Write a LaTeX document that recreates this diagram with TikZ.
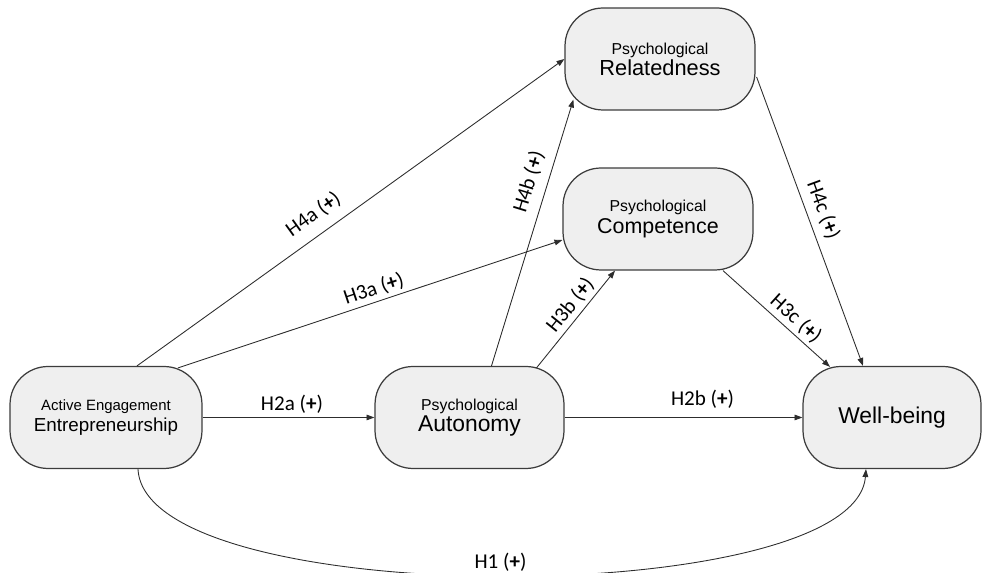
\documentclass[tikz,border=0pt]{standalone}
\usepackage{fontspec}
\setmainfont{Liberation Sans}
\newfontfamily\hypfont{Carlito}
\usetikzlibrary{arrows.meta,calc}

\definecolor{boxfill}{RGB}{239,239,239}
\definecolor{boxline}{RGB}{60,60,60}
\definecolor{pathline}{RGB}{45,45,45}

\newcommand{\cname}[4]{\fontsize{#3}{11}\selectfont #1\\\fontsize{#4}{13}\selectfont #2}
\newcommand{\plus}{(\textbf{+})}

\begin{document}
\begin{tikzpicture}[x=0.02cm,y=-0.02cm,
    construct/.style={draw=boxline,line width=0.7pt,fill=boxfill,rounded corners=0.76cm,
      minimum width=3.8cm,minimum height=2.04cm,align=center,inner sep=0pt},
    hypline/.style={draw=pathline,line width=0.5pt,-{Triangle[length=4.5pt,width=3.2pt]}},
    hyplabel/.style={sloped,above,inner sep=2pt,font=\hypfont\fontsize{12}{14}\selectfont}]
  \useasboundingbox (0,0) rectangle (984,573);

  \node[construct,minimum width=3.84cm] (ent) at (106,417.5)
    {\cname{Active Engagement}{Entrepreneurship}{8.5}{10.7}};
  \node[construct,minimum width=3.78cm] (aut) at (469.5,417.5)
    {\cname{Psychological}{Autonomy}{9}{13}};
  \node[construct,minimum width=3.56cm] (wb) at (892,417.5)
    {\fontsize{13}{15}\selectfont Well-being};
  \node[construct] (rel) at (660,59) {\cname{Psychological}{Relatedness}{9}{12.4}};
  \node[construct] (com) at (658,219) {\cname{Psychological}{Competence}{9}{12.2}};

  % direct and mediated paths
  \draw[hypline] (ent.east) -- node[hyplabel,pos=0.52]{H2a \plus} (aut.west);
  \draw[hypline] (aut.east) -- node[hyplabel,pos=0.58,above=3pt]{H2b \plus} (wb.west);
  \draw[hypline] ($(ent.north)+(31,0)$) -- node[hyplabel,pos=0.44,above=4pt]{H4a \plus} (rel.west);
  \draw[hypline] ($(ent.north)+(72,2)$) -- node[hyplabel,pos=0.52]{H3a \plus} ($(com.west)+(0,21)$);
  \draw[hypline] ($(aut.north)+(22,0)$) -- node[hyplabel,pos=0.67,above=3pt]{H4b \plus} ($(rel.south west)+(9,-11)$);
  \draw[hypline] ($(aut.north)+(67,2)$) -- node[hyplabel,pos=0.56]{H3b \plus} ($(com.south)+(-43,0)$);
  \draw[hypline] ($(com.south)+(65,0)$) -- node[hyplabel,pos=0.6]{H3c \plus} ($(wb.north)+(-62,1)$);
  \draw[hypline] ($(rel.east)+(1,18)$) -- node[hyplabel,pos=0.48,above=2pt]{H4c \plus} ($(wb.north)+(-29,0)$);
  \draw[hypline] ($(ent.south)+(32,0)$) .. controls (145,612) and (855,610) ..
    node[hyplabel,pos=0.5]{H1 \plus} ($(wb.south)+(-26,0)$);
\end{tikzpicture}
\end{document}
